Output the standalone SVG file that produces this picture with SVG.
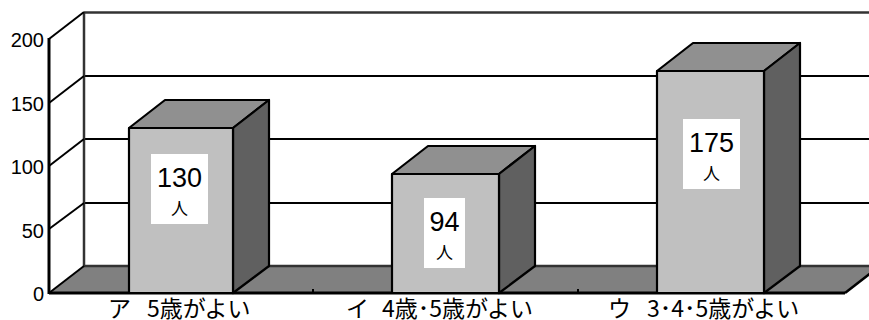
<svg xmlns="http://www.w3.org/2000/svg" width="869" height="320" viewBox="0 0 869 320">
<style>
.grid{stroke:#000;stroke-width:2;fill:none}
.edge{stroke:#333;stroke-width:2.5;fill:none}
.ax{font-family:"Liberation Sans",Arial,sans-serif;font-size:20px;fill:#000;text-anchor:end}
.bar path{stroke:#000;stroke-width:2.2;stroke-linejoin:round}
.front{fill:#c0c0c0}.top{fill:#909090}.side{fill:#606060}
.val{font-family:"Liberation Sans",Arial,sans-serif;font-size:27px;fill:#000;text-anchor:middle}
.unit{font-family:"Noto Sans CJK JP",sans-serif;font-size:17px;fill:#000;text-anchor:middle}
.cat{font-family:"Noto Sans CJK JP",sans-serif;font-size:23px;fill:#000}
</style>
<rect width="869" height="320" fill="#fff"/>
<g id="walls">
<line class="grid" x1="84" y1="76" x2="869" y2="76"/>
<line class="grid" x1="84" y1="139" x2="869" y2="139"/>
<line class="grid" x1="84" y1="203" x2="869" y2="203"/>
<polygon points="49,293 84,266 880,266 845,293" fill="#808080"/>
<line class="edge" x1="84" y1="266" x2="869" y2="266"/>
<line class="edge" x1="84" y1="12.5" x2="869" y2="12.5"/>
<line class="edge" x1="84" y1="12" x2="84" y2="266"/>
<line class="grid" x1="49" y1="39" x2="84" y2="12"/>
<line class="grid" x1="49" y1="103" x2="84" y2="76"/>
<line class="grid" x1="49" y1="166" x2="84" y2="139"/>
<line class="grid" x1="49" y1="229" x2="84" y2="203"/>
<line class="grid" x1="49" y1="293" x2="84" y2="266"/>
<line x1="49" y1="293" x2="845" y2="293" stroke="#000" stroke-width="3"/>
<line x1="845" y1="293" x2="872" y2="272" stroke="#000" stroke-width="2.5"/>
<line x1="49" y1="38" x2="49" y2="294" stroke="#000" stroke-width="3"/>
<line x1="313" y1="293" x2="313" y2="289" stroke="#000" stroke-width="2"/>
<line x1="578" y1="293" x2="578" y2="289" stroke="#000" stroke-width="2"/>
</g>
<g id="axis-labels">
<text class="ax" x="44" y="47">200</text>
<text class="ax" x="44" y="111">150</text>
<text class="ax" x="44" y="174">100</text>
<text class="ax" x="44" y="238">50</text>
<text class="ax" x="44" y="301">0</text>
</g>
<g id="bar1" class="bar">
<path class="top" d="M129,128 L165,100 L269,100 L233,128 Z"/>
<path class="side" d="M233,128 L269,100 L269,266 L233,293 Z"/>
<path class="front" d="M129,128 H233 V293 H129 Z"/>
<rect x="151" y="154" width="57" height="70" fill="#fff"/>
<text class="val" x="179.5" y="187">130</text>
<text class="unit" x="179.5" y="215">人</text>
</g>
<g id="bar2" class="bar">
<path class="top" d="M392,174 L428,146 L535,146 L499,174 Z"/>
<path class="side" d="M499,174 L535,146 L535,266 L499,293 Z"/>
<path class="front" d="M392,174 H499 V293 H392 Z"/>
<rect x="424" y="198" width="41" height="70" fill="#fff"/>
<text class="val" x="444.5" y="231">94</text>
<text class="unit" x="444.5" y="259">人</text>
</g>
<g id="bar3" class="bar">
<path class="top" d="M657,71 L693,43 L800,43 L764,71 Z"/>
<path class="side" d="M764,71 L800,43 L800,266 L764,293 Z"/>
<path class="front" d="M657,71 H764 V293 H657 Z"/>
<rect x="683" y="119" width="57" height="70" fill="#fff"/>
<text class="val" x="711.5" y="152">175</text>
<text class="unit" x="711.5" y="180">人</text>
</g>
<g id="categories">
<text class="cat" y="317"><tspan x="108">ア</tspan><tspan x="147">5歳がよい</tspan></text>
<text class="cat" y="317"><tspan x="346">イ</tspan><tspan x="382">4歳･5歳がよい</tspan></text>
<text class="cat" y="317"><tspan x="608">ウ</tspan><tspan x="647">3･4･5歳がよい</tspan></text>
</g>
</svg>
